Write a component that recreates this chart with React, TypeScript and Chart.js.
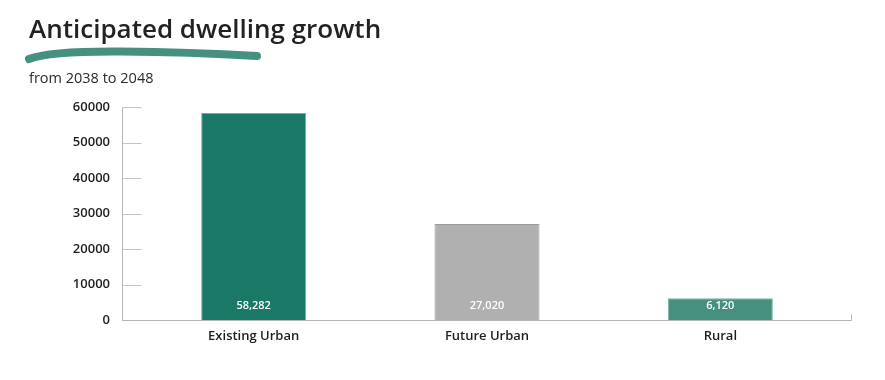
import React, { useEffect, useRef } from "react";
import { Chart, registerables } from "chart.js";

Chart.register(...registerables);

const categories = ["Existing Urban", "Future Urban", "Rural"];
const values = [58282, 27020, 6120];
const barColors = ["#1a7866", "#b0b0b0", "#45907f"];
const barBorders = ["#7fa9a0", "#9a9a9a", "#7fb0a5"];
const yTickMax = 60000;
const yTickStep = 10000;
const titleText = "Anticipated dwelling growth";
const subtitleText = "from 2038 to 2048";

const FONT = "'Open Sans', 'Noto Sans', sans-serif";

const decorPlugin = {
  id: "decor",
  afterDatasetsDraw(chart: any) {
    const { ctx } = chart;
    const meta = chart.getDatasetMeta(0);
    ctx.save();
    ctx.fillStyle = "#ffffff";
    ctx.font = `600 11px ${FONT}`;
    ctx.textAlign = "center";
    ctx.textBaseline = "middle";
    meta.data.forEach((bar: any, i: number) => {
      ctx.fillText(values[i].toLocaleString("en-US"), bar.x, bar.base - 14);
    });
    ctx.restore();
  },
  afterDraw(chart: any) {
    const { ctx, chartArea, scales } = chart;
    const y = scales.y;
    const axisX = Math.round(chartArea.left - 15) + 0.5;
    const bottom = Math.round(chartArea.bottom) + 0.5;
    const endX = Math.round(chartArea.right + 14) + 0.5;
    ctx.save();
    ctx.lineWidth = 1;
    ctx.strokeStyle = "#c4c4c4";
    y.ticks.forEach((t: any) => {
      const py = Math.round(y.getPixelForValue(t.value)) + 0.5;
      ctx.beginPath();
      ctx.moveTo(axisX, py);
      ctx.lineTo(axisX + 19, py);
      ctx.stroke();
    });
    ctx.strokeStyle = "#b5b5b5";
    ctx.beginPath();
    ctx.moveTo(axisX, Math.round(y.getPixelForValue(yTickMax)) + 0.5);
    ctx.lineTo(axisX, bottom);
    ctx.lineTo(endX, bottom);
    ctx.moveTo(endX, bottom - 6);
    ctx.lineTo(endX, bottom);
    ctx.stroke();
    ctx.restore();
  },
};

function BarChart() {
  const ref = useRef<HTMLCanvasElement | null>(null);
  useEffect(() => {
    if (!ref.current) return;
    const chart = new Chart(ref.current, {
      type: "bar",
      data: {
        labels: categories,
        datasets: [
          {
            data: values,
            backgroundColor: barColors,
            borderColor: barBorders,
            borderWidth: 1,
            barPercentage: 0.45,
            categoryPercentage: 1,
          },
        ],
      },
      options: {
        responsive: false,
        animation: false,
        layout: { padding: { top: 107, right: 48, bottom: 20, left: 0 } },
        plugins: {
          legend: { display: false },
          tooltip: { enabled: false },
        },
        scales: {
          x: {
            grid: { display: false, drawTicks: false },
            border: { display: false },
            ticks: {
              color: "#1e1e1e",
              font: { family: FONT, size: 13, weight: "600" as any },
              padding: 8,
            },
            afterFit: (s: any) => {
              s.height = 40;
            },
          },
          y: {
            min: 0,
            max: yTickMax,
            grid: { display: false, drawTicks: false },
            border: { display: false },
            ticks: {
              stepSize: yTickStep,
              color: "#1e1e1e",
              font: { family: FONT, size: 13, weight: "600" as any },
              padding: 27,
              callback: (v: any) => String(v),
            },
            afterFit: (s: any) => {
              s.width = 137;
            },
          },
        },
      },
      plugins: [decorPlugin],
    });
    return () => chart.destroy();
  }, []);
  return <canvas ref={ref} width={885} height={380} style={{ position: "absolute", left: 0, top: 0 }} />;
}

export default function App() {
  return (
    <div style={{ position: "fixed", left: 0, top: 0, width: 885, height: 380, background: "#fff", overflow: "hidden" }}>
      <BarChart />
      <div
        style={{
          position: "absolute",
          left: 29,
          top: 15,
          fontFamily: FONT,
          fontSize: 26,
          lineHeight: "26px",
          fontWeight: 600,
          color: "#222",
          whiteSpace: "nowrap",
        }}
      >
        {titleText}
      </div>
      <svg width={885} height={80} style={{ position: "absolute", left: 0, top: 0 }}>
        <path
          d="M 29 59 Q 50 51 120 51.5 T 257 56"
          stroke="#45907f"
          strokeWidth={8}
          strokeLinecap="round"
          fill="none"
        />
      </svg>
      <div
        style={{
          position: "absolute",
          left: 29,
          top: 71,
          fontFamily: FONT,
          fontSize: 14.5,
          lineHeight: "14px",
          fontWeight: 500,
          color: "#2a2a2a",
          whiteSpace: "nowrap",
        }}
      >
        {subtitleText}
      </div>
    </div>
  );
}
